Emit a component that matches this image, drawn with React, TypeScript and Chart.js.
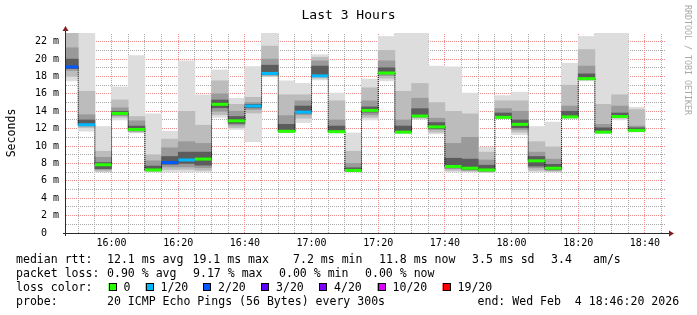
import React, { useEffect, useRef } from 'react';
import { Chart, registerables } from 'chart.js';

Chart.register(...registerables);

// ---------------- data ----------------
const windowStart = '15:46:20';
const windowEnd = '18:46:20';
const stepMinutes = 5;

// start of each 300 s step
const stepStarts = [
  '15:45', '15:50', '15:55', '16:00', '16:05', '16:10', '16:15', '16:20', '16:25', '16:30',
  '16:35', '16:40', '16:45', '16:50', '16:55', '17:00', '17:05', '17:10', '17:15', '17:20',
  '17:25', '17:30', '17:35', '17:40', '17:45', '17:50', '17:55', '18:00', '18:05', '18:10',
  '18:15', '18:20', '18:25', '18:30', '18:35',
];

// median rtt (ms)
const medianRtt = [
  19.1, 12.45, 7.85, 13.75, 11.9, 7.25, 8.1, 8.4, 8.5, 14.8,
  12.9, 14.6, 18.35, 11.7, 13.9, 18.07, 11.65, 7.2, 14.1, 18.4,
  11.6, 13.45, 12.2, 7.65, 7.45, 7.25, 13.3, 12.5, 8.3, 7.45,
  13.35, 17.75, 11.6, 13.4, 11.8,
];

// lost pings out of 20
const lossCount = [
  2, 1, 0, 0, 0, 0, 2, 1, 0, 0,
  0, 1, 1, 0, 1, 1, 0, 0, 0, 0,
  0, 0, 0, 0, 0, 0, 0, 0, 0, 0,
  0, 0, 0, 0, 0,
];

// smoke bands (ms): outermost (min..max) to innermost
const smokeMin = [
  17.5, 11.7, 7.0, 13.0, 11.5, 7.0, 7.0, 7.0, 7.0, 13.3,
  11.9, 10.5, 17.95, 11.5, 12.7, 17.6, 11.5, 7.0, 13.0, 17.5,
  11.45, 13.1, 11.4, 7.0, 7.0, 6.95, 13.2, 11.3, 7.0, 7.0,
  13.2, 17.5, 11.45, 13.0, 11.6,
];
const smokeMax = [
  24, 24, 12.25, 16.8, 20.4, 13.7, 11.7, 19.8, 15.9, 18.75,
  15.5, 19.15, 24, 17.5, 17.2, 20.5, 16.1, 11.5, 17.7, 22.6,
  24, 24, 19.2, 19.1, 16.1, 9.85, 15.8, 16.2, 12.25, 12.75,
  19.5, 22.6, 24, 24, 14.45,
];
const band2Lo = [
  18.0, 12.1, 7.1, 13.3, 11.6, 7.1, 7.3, 7.3, 7.2, 13.6,
  12.1, 13.8, 18.05, 11.6, 13.2, 17.8, 11.55, 7.05, 13.3, 17.8,
  11.5, 13.2, 11.6, 7.2, 7.1, 7.0, 13.25, 11.6, 7.2, 7.1,
  13.25, 17.6, 11.5, 13.2, 11.7,
];
const band2Hi = [
  24, 16.3, 9.4, 15.3, 13.4, 9.0, 10.8, 14.0, 12.4, 17.5,
  14.8, 15.6, 21.5, 15.9, 15.9, 20.2, 15.2, 9.4, 16.7, 21.0,
  16.3, 17.2, 15.0, 14.0, 13.7, 9.3, 15.2, 15.2, 10.5, 9.9,
  17.0, 21.1, 14.8, 15.9, 14.2,
];
const band3Lo = [
  18.7, 12.3, 7.3, 13.5, 11.7, 7.15, 7.6, 7.6, 7.5, 14.0,
  12.4, 14.2, 18.15, 11.6, 13.6, 18.0, 11.6, 7.1, 13.6, 18.1,
  11.55, 13.3, 11.9, 7.4, 7.2, 7.1, 13.27, 11.9, 7.5, 7.2,
  13.3, 17.65, 11.55, 13.3, 11.75,
];
const band3Hi = [
  21.3, 13.6, 8.7, 14.4, 12.9, 8.3, 9.8, 10.5, 10.3, 16.0,
  14.0, 15.0, 20.0, 13.5, 15.2, 19.8, 13.0, 8.0, 15.2, 19.8,
  13.0, 15.5, 13.2, 10.3, 11.0, 8.4, 14.3, 14.0, 9.3, 8.5,
  14.6, 19.2, 12.5, 14.6, 12.3,
];
const band4Lo = [
  18.9, 12.4, 7.4, 13.6, 11.8, 7.2, 7.9, 8.0, 7.8, 14.4,
  12.6, 14.4, 18.25, 11.65, 13.8, 18.05, 11.62, 7.15, 13.9, 18.3,
  11.58, 13.4, 12.0, 7.5, 7.3, 7.15, 13.28, 12.1, 7.7, 7.3,
  13.32, 17.7, 11.58, 13.35, 11.78,
];
const band4Hi = [
  20.0, 13.0, 8.1, 14.0, 12.3, 7.7, 8.8, 9.3, 9.3, 15.3,
  13.4, 14.8, 19.3, 12.5, 14.6, 19.2, 12.3, 7.5, 14.5, 19.0,
  12.3, 14.3, 12.7, 8.6, 8.5, 7.8, 13.8, 13.0, 8.8, 7.9,
  14.0, 18.3, 12.1, 13.8, 12.1,
];

const xTickLabels = ['16:00', '16:20', '16:40', '17:00', '17:20', '17:40', '18:00', '18:20', '18:40'];
const yMajorValues = [0, 2, 4, 6, 8, 10, 12, 14, 16, 18, 20, 22];
const yMax = 23;

const lossLevels = [0, 1, 2, 3, 4, 10, 19];
const lossLabels = ['0', '1/20', '2/20', '3/20', '4/20', '10/20', '19/20'];
const lossColors = ['#26ff00', '#00b8ff', '#0059ff', '#5e00ff', '#7e00ff', '#dd00ff', '#ff0000'];

const titleText = 'Last 3 Hours';
const yAxisTitle = 'Seconds';
const watermark = 'RRDTOOL / TOBI OETIKER';
const statsRow1 = ['median rtt:', '12.1 ms avg', '19.1 ms max', '7.2 ms min', '11.8 ms now', '3.5 ms sd', '3.4', 'am/s'];
const statsRow2 = ['packet loss:', '0.90 % avg', '9.17 % max', '0.00 % min', '0.00 % now'];
const lossRowLabel = 'loss color:';
const probeRow = ['probe:', '20 ICMP Echo Pings (56 Bytes) every 300s', 'end: Wed Feb  4 18:46:20 2026'];

// ---------------- layout / style ----------------
const W = 697;
const H = 315;
const MONO = '"DejaVu Sans Mono", monospace';
const GRID = '#a8a8a8';
const MGRID = '#e88c8c';
const AXIS = '#2a2a2a';
const ARROW = '#801f1f';
const SMOKE = ['#dddddd', '#bcbcbc', '#9a9a9a', '#5c5c5c'];

const row1X = [16, 107, 192.5, 293, 379, 472, 551, 593];
const row2X = [16, 107, 193, 279, 365];
const lossBoxX = [108.5, 145.5, 203, 261, 319, 377.5, 442.5];
const probeX = [16, 107, 477.5];

function toMin(t: string): number {
  const p = t.split(':').map(Number);
  return p[0] * 60 + p[1] + (p[2] || 0) / 60 - 16 * 60;
}

function lossColor(n: number): string {
  let c = lossColors[0];
  for (let i = 0; i < lossLevels.length; i++) if (n >= lossLevels[i]) c = lossColors[i];
  return c;
}

export default function App() {
  const ref = useRef<HTMLCanvasElement | null>(null);

  useEffect(() => {
    const canvas = ref.current;
    if (!canvas) return;
    const xMin = toMin(windowStart);
    const xMax = toMin(windowEnd);
    const starts = stepStarts.map(toMin);
    const majorX = new Set(xTickLabels.map(toMin));
    const labelByMin = new Map(xTickLabels.map((l) => [toMin(l), l] as [number, string]));
    const gridX: number[] = [];
    for (let m = Math.ceil(xMin / stepMinutes) * stepMinutes; m <= xMax; m += stepMinutes) gridX.push(m);
    const gridY: number[] = [];
    for (let v = 0; v < yMax; v += 1) gridY.push(v);
    const majorY = new Set(yMajorValues);

    const bands = [
      [smokeMin, smokeMax],
      [band2Lo, band2Hi],
      [band3Lo, band3Hi],
      [band4Lo, band4Hi],
    ];
    const barSets: any[] = bands.map(([lo, hi], k) => ({
      type: 'bar',
      data: starts.map((s, i) => ({ x: s + stepMinutes / 2, y: [lo[i], hi[i]] })),
      backgroundColor: SMOKE[k],
      borderWidth: 0,
      grouped: false,
      barPercentage: 1,
      categoryPercentage: 1,
      clip: 0,
      order: 10 - k,
    }));

    const stepLine: any = {
      type: 'line',
      data: starts.flatMap((s, i) => [
        { x: s, y: medianRtt[i] },
        { x: s + stepMinutes, y: medianRtt[i] },
      ]),
      borderColor: '#000000',
      borderWidth: 1,
      borderDash: [1, 1],
      pointRadius: 0,
      tension: 0,
      clip: 0,
      order: 2,
    };

    const medianLine: any = {
      type: 'line',
      data: starts.flatMap((s, i) => [
        { x: s, y: medianRtt[i] },
        { x: s + stepMinutes, y: medianRtt[i] },
        { x: s + stepMinutes, y: null },
      ]),
      borderColor: '#26ff00',
      segment: {
        borderColor: (ctx: any) => lossColor(lossCount[Math.floor(ctx.p0DataIndex / 3)]),
      },
      borderWidth: 3,
      borderCapStyle: 'butt',
      spanGaps: false,
      pointRadius: 0,
      tension: 0,
      clip: 0,
      order: 1,
    };

    const decor = {
      id: 'rrdDecor',
      beforeDraw(chart: any) {
        const c = chart.ctx;
        c.save();
        c.fillStyle = '#ffffff';
        c.fillRect(0, 0, W, H);
        c.restore();
      },
      beforeDatasetsDraw(chart: any) {
        const c = chart.ctx as CanvasRenderingContext2D;
        const a = chart.chartArea;
        const xs = chart.scales.x;
        const ys = chart.scales.y;
        c.save();
        c.lineWidth = 1;
        c.setLineDash([1, 1]);
        const drawV = (major: boolean) => {
          gridX.forEach((m) => {
            if (majorX.has(m) !== major) return;
            const px = Math.floor(xs.getPixelForValue(m)) + 0.5;
            c.strokeStyle = major ? MGRID : GRID;
            c.beginPath();
            c.moveTo(px, a.bottom);
            c.lineTo(px, a.top);
            c.stroke();
          });
        };
        const drawH = (major: boolean) => {
          gridY.forEach((v) => {
            if (v === 0 || majorY.has(v) !== major) return;
            const py = Math.floor(ys.getPixelForValue(v)) + 0.5;
            c.strokeStyle = major ? MGRID : GRID;
            c.beginPath();
            c.moveTo(a.left, py);
            c.lineTo(a.right, py);
            c.stroke();
          });
        };
        drawV(false);
        drawH(false);
        drawV(true);
        drawH(true);
        c.restore();
      },
      afterDraw(chart: any) {
        const c = chart.ctx as CanvasRenderingContext2D;
        const a = chart.chartArea;
        c.save();
        // axes
        c.strokeStyle = AXIS;
        c.lineWidth = 1;
        c.setLineDash([]);
        const ax = Math.round(a.left) - 0.5;
        const ay = Math.round(a.bottom) + 0.5;
        c.beginPath();
        c.moveTo(ax, a.bottom + 3);
        c.lineTo(ax, a.top - 4);
        c.moveTo(a.left - 3, ay);
        c.lineTo(a.right + 5, ay);
        c.stroke();
        // arrows
        c.fillStyle = ARROW;
        c.beginPath();
        c.moveTo(ax, a.top - 7);
        c.lineTo(ax - 3, a.top - 2);
        c.lineTo(ax + 3, a.top - 2);
        c.closePath();
        c.fill();
        c.beginPath();
        c.moveTo(a.right + 8, ay);
        c.lineTo(a.right + 3, ay - 3);
        c.lineTo(a.right + 3, ay + 3);
        c.closePath();
        c.fill();

        // title
        c.fillStyle = '#000000';
        c.font = `13px ${MONO}`;
        c.textAlign = 'center';
        c.textBaseline = 'alphabetic';
        c.fillText(titleText, W / 2, 18.5);

        // y-axis title
        c.save();
        c.font = `11.55px ${MONO}`;
        c.translate(15, (a.top + a.bottom) / 2);
        c.rotate(-Math.PI / 2);
        c.textAlign = 'center';
        c.fillText(yAxisTitle, 0, 0);
        c.restore();

        // watermark
        c.save();
        c.font = `8.3px ${MONO}`;
        c.fillStyle = '#a8a8a8';
        c.translate(684.5, 5);
        c.rotate(Math.PI / 2);
        c.textAlign = 'left';
        c.fillText(watermark, 0, 0);
        c.restore();

        // legend
        c.font = `11.55px ${MONO}`;
        c.textAlign = 'left';
        c.fillStyle = '#000000';
        statsRow1.forEach((t, i) => c.fillText(t, row1X[i], 263));
        statsRow2.forEach((t, i) => c.fillText(t, row2X[i], 277));
        c.fillText(lossRowLabel, 16, 291);
        lossLabels.forEach((t, i) => {
          const bx = lossBoxX[i];
          c.fillStyle = lossColors[i];
          c.fillRect(bx, 283, 8, 8);
          c.strokeStyle = '#000000';
          c.lineWidth = 1;
          c.strokeRect(Math.round(bx) + 0.5, 283.5, 7, 7);
          c.fillStyle = '#000000';
          c.fillText(t, bx + 15, 291);
        });
        probeRow.forEach((t, i) => c.fillText(t, probeX[i], 305));
        c.restore();
      },
    };

    const chart = new Chart(canvas, {
      type: 'bar',
      data: { datasets: [medianLine, stepLine, ...barSets] },
      options: {
        animation: false,
        responsive: false,
        devicePixelRatio: 1,
        layout: { padding: { top: 33, right: 31, bottom: 0, left: 0 } },
        plugins: {
          legend: { display: false },
          tooltip: { enabled: false },
          title: { display: false },
        },
        scales: {
          x: {
            type: 'linear',
            offset: false,
            min: xMin,
            max: xMax,
            afterBuildTicks: (s: any) => {
              s.ticks = gridX.map((v) => ({ value: v }));
            },
            afterFit: (s: any) => {
              s.height = 82;
            },
            grid: { display: false, offset: false, drawTicks: false },
            border: { display: false },
            ticks: {
              autoSkip: false,
              maxRotation: 0,
              minRotation: 0,
              padding: 4,
              color: '#000000',
              font: { family: MONO, size: 10 },
              callback: (v: any) => labelByMin.get(Number(v)) || '',
            },
          },
          y: {
            type: 'linear',
            min: 0,
            max: yMax,
            afterBuildTicks: (s: any) => {
              s.ticks = gridY.map((v) => ({ value: v }));
            },
            afterFit: (s: any) => {
              s.width = 66;
            },
            grid: { display: false, drawTicks: false },
            border: { display: false },
            ticks: {
              padding: 7,
              color: '#000000',
              font: { family: MONO, size: 10 },
              callback: (v: any) => {
                const n = Number(v);
                if (!majorY.has(n)) return '';
                return n === 0 ? '0  ' : `${n} m`;
              },
            },
          },
        },
      } as any,
      plugins: [decor],
    });

    return () => chart.destroy();
  }, []);

  return (
    <div style={{ position: 'fixed', left: 0, top: 0, width: W, height: H, background: '#fff' }}>
      <canvas ref={ref} width={W} height={H} style={{ width: W, height: H, display: 'block' }} />
    </div>
  );
}
